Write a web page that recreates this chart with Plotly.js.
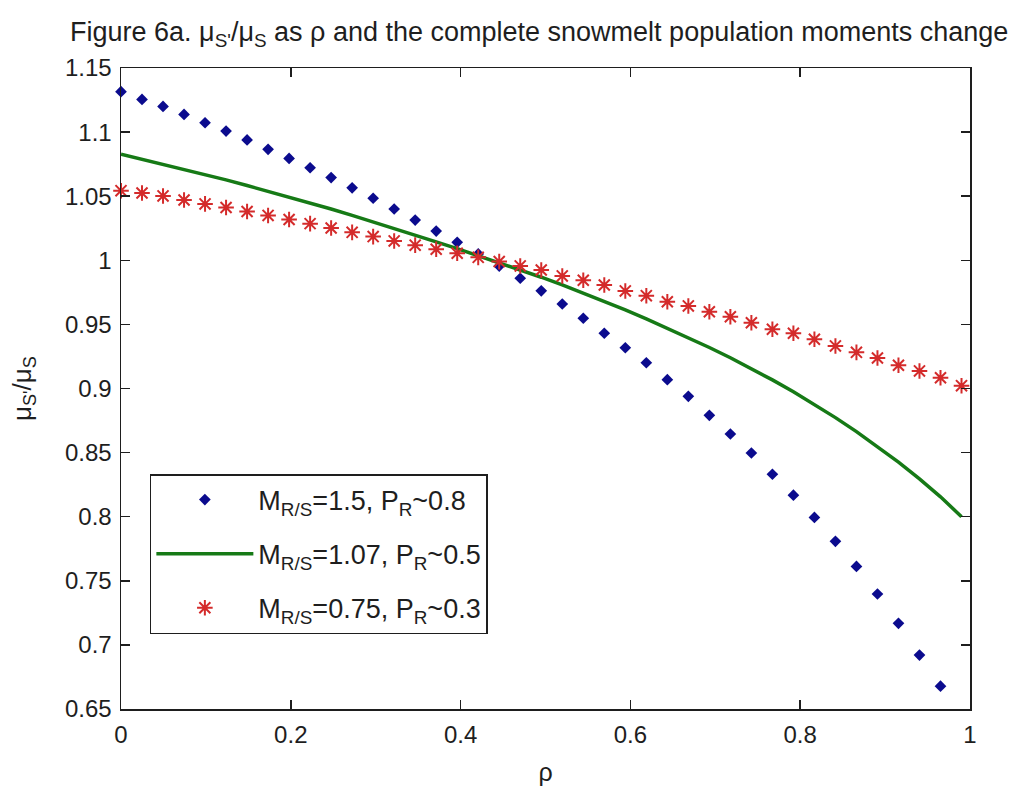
<!DOCTYPE html>
<html>
<head>
<meta charset="utf-8">
<script src="https://cdn.plot.ly/plotly-3.0.1.min.js"></script>
<style>
  html, body { margin: 0; padding: 0; background: #ffffff; }
  #chart { width: 1031px; height: 791px; }
</style>
</head>
<body>
<div id="chart"></div>
<script>
// Correlation coefficient rho (shared abscissa of all three series)
const rho = [0, 0.02475, 0.0495, 0.07425, 0.099, 0.12375, 0.1485, 0.17325, 0.198, 0.22275,
  0.2475, 0.27225, 0.297, 0.32175, 0.3465, 0.37125, 0.396, 0.42075, 0.4455, 0.47025,
  0.495, 0.51975, 0.5445, 0.56925, 0.594, 0.61875, 0.6435, 0.66825, 0.693, 0.71775,
  0.7425, 0.76725, 0.792, 0.81675, 0.8415, 0.86625, 0.891, 0.91575, 0.9405, 0.96525, 0.99];

// mu_S'/mu_S for M_R/S = 1.5, P_R ~ 0.8 (last value falls below the axis range)
const ratioHigh = [1.1315, 1.1255, 1.1200, 1.1138, 1.1073, 1.1008, 1.0939, 1.0866, 1.0795, 1.0722,
  1.0645, 1.0565, 1.0484, 1.0400, 1.0314, 1.0228, 1.0140, 1.0050, 0.9955, 0.9860,
  0.9762, 0.9659, 0.9548, 0.9431, 0.9318, 0.9201, 0.9069, 0.8939, 0.8791, 0.8645,
  0.8497, 0.8331, 0.8168, 0.7994, 0.7808, 0.7612, 0.7397, 0.7168, 0.6921, 0.6678];

// mu_S'/mu_S for M_R/S = 1.07, P_R ~ 0.5
const ratioMid = [1.0827, 1.0788, 1.0749, 1.0710, 1.0670, 1.0627, 1.0583, 1.0539, 1.0494, 1.0448,
  1.0400, 1.0350, 1.0300, 1.0249, 1.0197, 1.0144, 1.0091, 1.0037, 0.9983, 0.9927,
  0.9868, 0.9808, 0.9745, 0.9680, 0.9613, 0.9543, 0.9471, 0.9397, 0.9320, 0.9240,
  0.9155, 0.9067, 0.8974, 0.8876, 0.8773, 0.8664, 0.8548, 0.8425, 0.8295, 0.8155, 0.8000];

// mu_S'/mu_S for M_R/S = 0.75, P_R ~ 0.3
const ratioLow = [1.0543, 1.0525, 1.0502, 1.0470, 1.0440, 1.0412, 1.0381, 1.0350, 1.0318, 1.0286,
  1.0252, 1.0218, 1.0185, 1.0151, 1.0118, 1.0086, 1.0055, 1.0023, 0.9990, 0.9956,
  0.9924, 0.9878, 0.9844, 0.9807, 0.9761, 0.9724, 0.9677, 0.9644, 0.9599, 0.9560,
  0.9513, 0.9462, 0.9431, 0.9384, 0.9332, 0.9282, 0.9238, 0.9181, 0.9137, 0.9084, 0.9022];

const seriesNames = [
  'M<sub>R/S</sub>=1.5, P<sub>R</sub>~0.8',
  'M<sub>R/S</sub>=1.07, P<sub>R</sub>~0.5',
  'M<sub>R/S</sub>=0.75, P<sub>R</sub>~0.3'
];

const xTickVals = [0, 0.2, 0.4, 0.6, 0.8, 1];
const xTickText = ['0', '0.2', '0.4', '0.6', '0.8', '1'];
const yTickVals = [0.65, 0.7, 0.75, 0.8, 0.85, 0.9, 0.95, 1, 1.05, 1.1, 1.15];
const yTickText = ['0.65', '0.7', '0.75', '0.8', '0.85', '0.9', '0.95', '1', '1.05', '1.1', '1.15'];

const FONT = 'Arial, "Liberation Sans", Helvetica, sans-serif';
const INK = '#1e1e1e';

const traces = [
  {
    x: rho.slice(0, ratioHigh.length), y: ratioHigh,
    type: 'scatter', mode: 'markers', name: seriesNames[0], legendgroup: 'a',
    cliponaxis: false,
    marker: { symbol: 'diamond', size: 9, color: '#0b0b8e', line: { width: 0 } }
  },
  {
    x: rho, y: ratioMid,
    type: 'scatter', mode: 'lines', name: seriesNames[1], legendgroup: 'b',
    line: { color: '#167a16', width: 3.5 }
  },
  {
    x: rho, y: ratioLow,
    type: 'scatter', mode: 'markers', name: seriesNames[2], legendgroup: 'c',
    cliponaxis: false,
    marker: { symbol: 'asterisk-open', size: 13, color: '#d42b2b', line: { color: '#d42b2b', width: 2 } }
  }
];

const axisCommon = {
  showline: true, linecolor: INK, linewidth: 1.5, mirror: 'ticks',
  ticks: 'inside', ticklen: 9, tickwidth: 1.5, tickcolor: INK,
  showgrid: false, zeroline: false,
  tickfont: { family: FONT, size: 24, color: INK }
};

const layout = {
  width: 1031, height: 791,
  margin: { l: 121, r: 61, t: 68, b: 82 },
  paper_bgcolor: '#ffffff', plot_bgcolor: '#ffffff',
  font: { family: FONT, color: INK },
  title: {
    text: "Figure 6a. μ<sub>S'</sub>/μ<sub>S</sub> as ρ and the complete snowmelt population moments change",
    font: { family: FONT, size: 27, color: INK },
    x: 0.523, xanchor: 'center', y: 0.9595, yanchor: 'middle'
  },
  xaxis: Object.assign({}, axisCommon, {
    range: [0, 1], tickmode: 'array', tickvals: xTickVals, ticktext: xTickText,
    ticklabelstandoff: 4,
    title: { text: 'ρ', font: { family: FONT, size: 25, color: INK }, standoff: 16 }
  }),
  yaxis: Object.assign({}, axisCommon, {
    range: [0.65, 1.15], tickmode: 'array', tickvals: yTickVals, ticktext: yTickText,
    ticklabelstandoff: 3,
    title: { text: "μ<sub>S'</sub>/μ<sub>S</sub>", font: { family: FONT, size: 26, color: INK }, standoff: 26 }
  }),
  showlegend: true,
  legend: {
    x: 0.034, y: 0.3666, xanchor: 'left', yanchor: 'top',
    bgcolor: '#ffffff', bordercolor: INK, borderwidth: 1.5,
    font: { family: FONT, size: 27, color: INK },
    traceorder: 'grouped', tracegroupgap: 16, itemwidth: 97,
    entrywidth: 352, entrywidthmode: 'pixels'
  }
};

Plotly.newPlot('chart', traces, layout, { displayModeBar: false, staticPlot: true });
</script>
</body>
</html>
